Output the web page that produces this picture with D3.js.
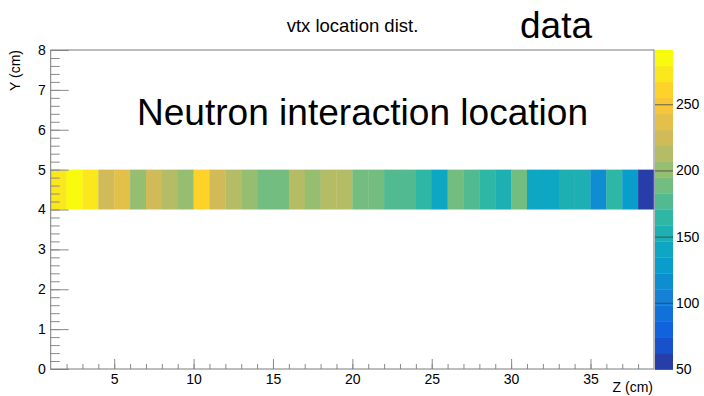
<!DOCTYPE html>
<html>
<head>
<meta charset="utf-8">
<script src="https://cdn.jsdelivr.net/npm/d3@7"></script>
<style>
  html, body { margin: 0; padding: 0; background: #fff; }
  svg { display: block; }
  text { font-family: "Liberation Sans", Arial, Helvetica, sans-serif; fill: #000; }
</style>
</head>
<body>
<svg id="chart" width="704" height="396"></svg>
<script>
// Z bins: lower edges in cm, each 1 cm wide
const zBinLow = [1,2,3,4,5,6,7,8,9,10,11,12,13,14,15,16,17,18,19,20,
                 21,22,23,24,25,26,27,28,29,30,31,32,33,34,35,36,37,38];
const zBinWidth = 1;
// Y band occupied by the vertices (cm)
const yBand = [4, 5];
// Entries per bin
const counts = [270,291,268,224,236,201,222,212,198,260,
                226,210,203,190,188,214,199,211,209,186,
                189,176,178,165,142,187,175,166,154,184,
                140,139,152,150,118,162,129,50];

// Axis ranges and tick labels
const zRange = [1, 39];
const yRange = [0, 8];
const zMajorTicks = [5,10,15,20,25,30,35];
const yMajorTicks = [0,1,2,3,4,5,6,7,8];
const colorTicks = [50,100,150,200,250];

const titleText = "vtx location dist.";
const tagText = "data";
const noteText = "Neutron interaction location";
const xLabel = "Z (cm)";
const yLabel = "Y (cm)";

// Bird palette stops
const birdStops = [0.0,0.125,0.25,0.375,0.5,0.625,0.75,0.875,1.0];
const birdR = [0.2082,0.0592,0.0780,0.0232,0.1802,0.5301,0.8186,0.9956,0.9764];
const birdG = [0.1664,0.3599,0.5041,0.6419,0.7178,0.7492,0.7328,0.7862,0.9832];
const birdB = [0.5293,0.8684,0.8385,0.7914,0.6425,0.4662,0.3499,0.1968,0.0539];

const nLevels = 20;
const nColors = 255;

const svg = d3.select("#chart");
const frame = {left: 50.7, right: 654, top: 50, bottom: 369};
const bar = {left: 655, right: 673};

const x = d3.scaleLinear().domain(zRange).range([frame.left, frame.right]);
const y = d3.scaleLinear().domain(yRange).range([frame.bottom, frame.top]);

// Continuous palette, then the 20 contour colours sampled from it
const bird = d3.scaleLinear()
  .domain(birdStops)
  .range(birdStops.map((s, i) => d3.rgb(birdR[i]*255, birdG[i]*255, birdB[i]*255)))
  .interpolate(d3.interpolateRgb);
const levelColors = d3.range(nLevels).map(i => {
  const k = Math.floor((i + 0.99) * nColors / nLevels);
  return bird(Math.min(k, nColors - 1) / (nColors - 1));
});

const zExtent = d3.extent(counts);
const color = d3.scaleQuantize().domain(zExtent).range(levelColors);
const cScale = d3.scaleLinear().domain(zExtent).range([frame.bottom, frame.top]);

// Histogram cells
svg.append("g").selectAll("rect")
  .data(zBinLow)
  .join("rect")
  .attr("x", d => x(d))
  .attr("y", y(yBand[1]))
  .attr("width", d => x(d + zBinWidth) - x(d) + 0.3)
  .attr("height", y(yBand[0]) - y(yBand[1]))
  .attr("fill", (d, i) => color(counts[i]));

// Colour bar bands
const bandEdges = d3.range(nLevels + 1).map(i => zExtent[0] + i * (zExtent[1] - zExtent[0]) / nLevels);
svg.append("g").selectAll("rect")
  .data(d3.range(nLevels))
  .join("rect")
  .attr("x", bar.left)
  .attr("width", bar.right - bar.left)
  .attr("y", i => cScale(bandEdges[i + 1]))
  .attr("height", i => cScale(bandEdges[i]) - cScale(bandEdges[i + 1]) + 0.3)
  .attr("fill", (i) => levelColors[i]);

const tickColor = "#8a8a8a";

// X axis: minor and major ticks pointing into the frame
const xMinor = svg.append("g")
  .attr("transform", `translate(0,${frame.bottom})`)
  .call(d3.axisBottom(x).tickValues(d3.range(2, 39)).tickSize(-5).tickFormat(""));
const xMajor = svg.append("g")
  .attr("transform", `translate(0,${frame.bottom})`)
  .call(d3.axisBottom(x).tickValues(zMajorTicks).tickSize(-10).tickPadding(5).tickFormat(d3.format("d")));

// Y axis
const yMinor = svg.append("g")
  .attr("transform", `translate(${frame.left},0)`)
  .call(d3.axisLeft(y).tickValues(d3.range(0, 8.001, 0.2)).tickSize(-9).tickFormat(""));
const yMajor = svg.append("g")
  .attr("transform", `translate(${frame.left},0)`)
  .call(d3.axisLeft(y).tickValues(yMajorTicks).tickSize(-18).tickPadding(5).tickFormat(d3.format("d")));

// Colour axis
const cAxis = svg.append("g")
  .attr("transform", `translate(${bar.right},0)`)
  .call(d3.axisRight(cScale).tickValues(colorTicks).tickSize(-(bar.right - bar.left)).tickPadding(3).tickFormat(d3.format("d")));

[xMinor, xMajor, yMinor, yMajor].forEach(g => {
  g.select(".domain").remove();
  g.selectAll(".tick line").attr("stroke", tickColor).attr("stroke-width", 1);
});
cAxis.select(".domain").remove();
cAxis.selectAll(".tick line").attr("stroke", "#3c3c3c").attr("stroke-opacity", 0.75);

svg.selectAll(".tick text")
  .attr("font-family", "Liberation Sans, Arial, sans-serif")
  .attr("font-size", 14)
  .attr("fill", "#000");

// Frame
svg.append("rect")
  .attr("x", frame.left).attr("y", frame.top)
  .attr("width", frame.right - frame.left)
  .attr("height", frame.bottom - frame.top)
  .attr("fill", "none")
  .attr("stroke", "#7a7a7a")
  .attr("stroke-width", 1);

// Axis titles
svg.append("text")
  .attr("x", frame.right - 1).attr("y", 392)
  .attr("text-anchor", "end")
  .attr("font-size", 14)
  .text(xLabel);

svg.append("text")
  .attr("transform", `translate(20,${frame.top}) rotate(-90)`)
  .attr("text-anchor", "end")
  .attr("font-size", 14)
  .text(yLabel);

// Titles and annotations
svg.append("text")
  .attr("x", 352.5).attr("y", 31.5)
  .attr("text-anchor", "middle")
  .attr("font-size", 18.5)
  .text(titleText);

svg.append("text")
  .attr("x", 520).attr("y", 37.5)
  .attr("font-size", 36)
  .attr("textLength", 72)
  .attr("lengthAdjust", "spacingAndGlyphs")
  .text(tagText);

svg.append("text")
  .attr("x", 137).attr("y", 125)
  .attr("font-size", 36)
  .attr("textLength", 451)
  .attr("lengthAdjust", "spacingAndGlyphs")
  .text(noteText);
</script>
</body>
</html>
